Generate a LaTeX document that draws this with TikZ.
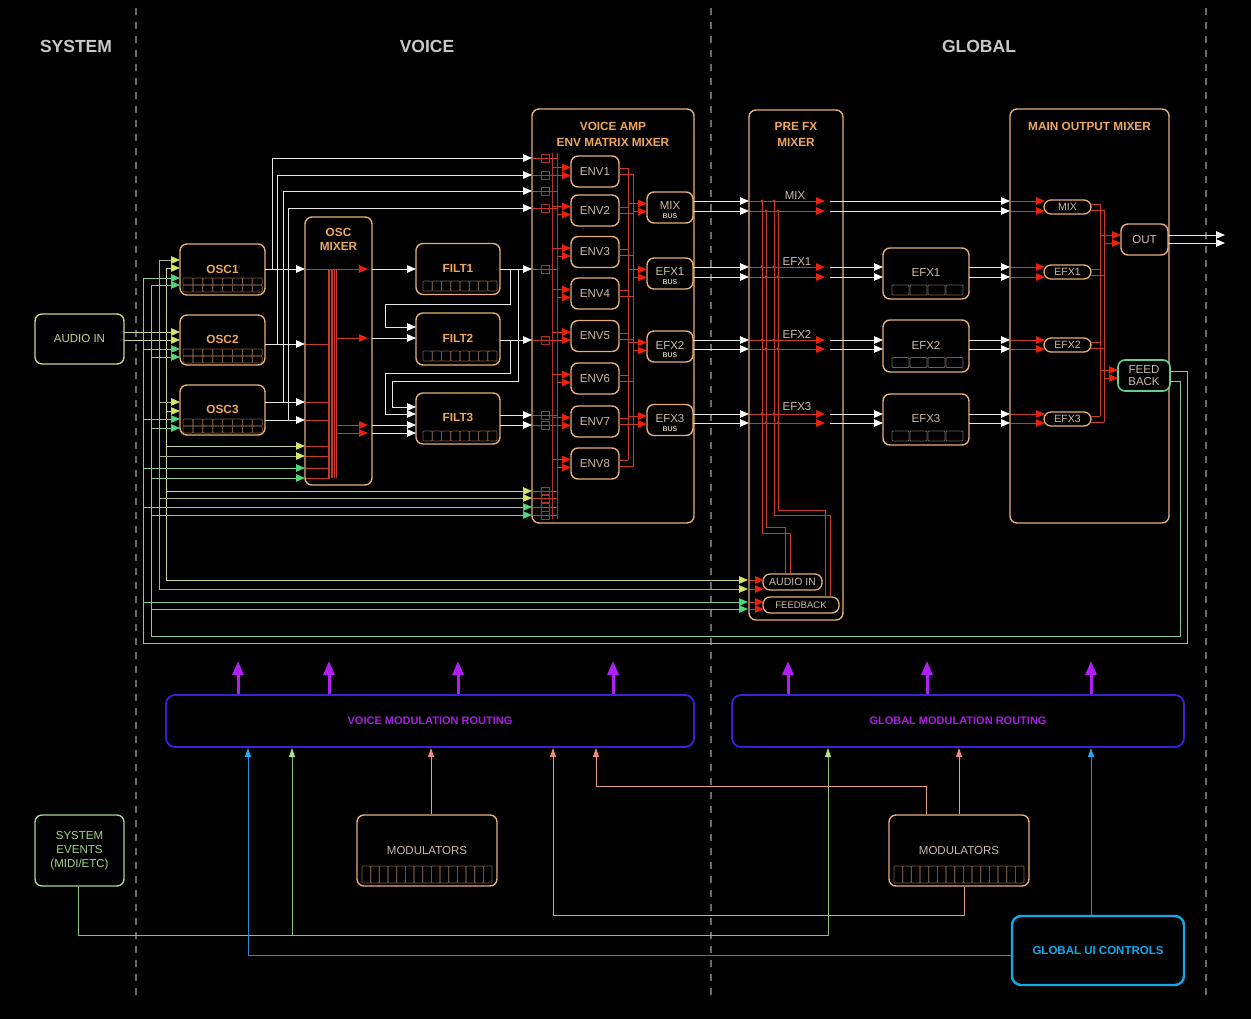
\documentclass[tikz,border=0pt]{standalone}
\usepackage{fontspec}
\setmainfont{Liberation Sans}
\usetikzlibrary{arrows.meta}
\definecolor{boxc}{HTML}{E6AE78}
\definecolor{titc}{HTML}{F0A860}
\definecolor{txtc}{HTML}{CDBCAA}
\definecolor{hdrc}{HTML}{C8C8C8}
\definecolor{sepc}{HTML}{6A6A6A}
\definecolor{wlc}{HTML}{E6E6E6}
\definecolor{redt}{HTML}{E8200C}
\definecolor{redl}{HTML}{C83A2A}
\definecolor{redd}{HTML}{B0302A}
\definecolor{cellc}{HTML}{7A5C44}
\definecolor{audl}{HTML}{C8D49A}
\definecolor{audl2}{HTML}{A8B084}
\definecolor{yelt}{HTML}{D4E464}
\definecolor{grnl}{HTML}{88C89A}
\definecolor{grnt}{HTML}{4CD878}
\definecolor{fbc}{HTML}{6CCC8C}
\definecolor{aibox}{HTML}{C4DA8A}
\definecolor{aitxt}{HTML}{C8D490}
\definecolor{sysc}{HTML}{A6D68E}
\definecolor{modbox}{HTML}{3A22D8}
\definecolor{modtxt}{HTML}{A81EE0}
\definecolor{purp}{HTML}{B020F0}
\definecolor{salm}{HTML}{E0A088}
\definecolor{salt}{HTML}{F08878}
\definecolor{blul}{HTML}{2A88D8}
\definecolor{blut}{HTML}{22A8F0}
\definecolor{uic}{HTML}{12A8EC}
\definecolor{sysl}{HTML}{8CC078}
\definecolor{syst}{HTML}{A8E090}
\definecolor{efxcell}{HTML}{6A6058}
\tikzset{
  box/.style={draw=boxc, line width=1.4pt, rounded corners=7pt, fill=black, inner sep=0pt},
  pill/.style={draw=boxc, line width=1.3pt, rounded corners=7pt, fill=black, inner sep=0pt, text=txtc},
  ttl/.style={text=titc, font=\fontsize{11.8}{13.5}\selectfont\bfseries},
  lbl/.style={text=txtc, font=\fontsize{11.5}{13.5}\selectfont},
  plbl/.style={text=txtc, font=\fontsize{10.5}{12}\selectfont},
  hdr/.style={text=hdrc, font=\fontsize{17.5}{20}\selectfont\bfseries},
  sepline/.style={draw=sepc, line width=2.2pt, dash pattern=on 7pt off 7pt},
  wl/.style={draw=wlc, line width=0.9pt},
  wa/.style={wl, -{Triangle[length=9pt,width=7.5pt,color=white]}},
  rl/.style={draw=redl, line width=0.8pt},
  rd/.style={draw=redd, line width=0.8pt},
  ra/.style={rl, -{Triangle[length=9pt,width=7.5pt,color=redt]}},
  yl/.style={draw=audl, line width=0.9pt},
  ya/.style={yl, -{Triangle[length=9pt,width=7.5pt,color=yelt]}},
  kl/.style={draw=audl2, line width=0.9pt},
  ka/.style={kl, -{Triangle[length=9pt,width=7.5pt,color=yelt]}},
  gl/.style={draw=grnl, line width=0.9pt},
  ga/.style={gl, -{Triangle[length=9pt,width=7.5pt,color=grnt]}},
  cell/.style={draw=cellc, line width=0.7pt, rounded corners=1pt},
  ecell/.style={draw=efxcell, line width=0.8pt, rounded corners=1pt},
  pa/.style={draw=purp, line width=3pt, -{Triangle[length=14pt,width=11pt]}},
  sl/.style={draw=salm, line width=0.9pt},
  sa/.style={sl, -{Triangle[length=9pt,width=6pt,color=salt]}},
  bl/.style={draw=blul, line width=0.9pt},
  ba/.style={bl, -{Triangle[length=9pt,width=6pt,color=blut]}},
  ql/.style={draw=sysl, line width=0.9pt},
  qa/.style={ql, -{Triangle[length=9pt,width=6pt,color=syst]}},
  modr/.style={draw=modbox, line width=1.8pt, rounded corners=9pt, fill=black, inner sep=0pt, text=modtxt, font=\fontsize{11}{13}\selectfont\bfseries},
}
\begin{document}
\begin{tikzpicture}[x=1pt,y=-1pt]
\useasboundingbox (0,0) rectangle (1251,1019);
\fill[black] (0,0) rectangle (1251,1019);

% separators
\draw[sepline] (136,8)--(136,995);
\draw[sepline] (711,8)--(711,995);
\draw[sepline] (1206,8)--(1206,995);

% headers
\node[hdr] (hsys) at (76,46) {SYSTEM};
\node[hdr] (hvoice) at (427,46) {VOICE};
\node[hdr] (hglobal) at (979,46) {GLOBAL};

% big containers
\node[box, minimum width=67pt, minimum height=268pt] (oscmix) at (338.5,351) {};
\node[ttl, align=center] (oscmixt) at (338.5,239.5) {OSC\\MIXER};
\node[box, minimum width=162pt, minimum height=414pt] (voiceamp) at (613,316) {};
\node[ttl] (vat1) at (613,126) {VOICE AMP};
\node[ttl] (vat2) at (613,142) {ENV MATRIX MIXER};
\node[box, minimum width=94pt, minimum height=510pt] (prefx) at (796,365) {};
\node[ttl] (pft1) at (796,126) {PRE FX};
\node[ttl] (pft2) at (796,142) {MIXER};
\node[box, minimum width=159pt, minimum height=414pt] (mainmix) at (1089.5,316) {};
\node[ttl] (mmt) at (1089.5,126) {MAIN OUTPUT MIXER};

% audio in
\node[draw=aibox, line width=1.4pt, rounded corners=7pt, fill=black, minimum width=89pt, minimum height=50pt, text=aitxt, font=\fontsize{11.5}{13.5}\selectfont] (audioin) at (79.5,339) {AUDIO IN};

% oscillators
\node[box, ttl, minimum width=85pt, minimum height=51pt] (osc1) at (222.5,269.5) {\raisebox{1pt}{OSC1}};
\node[box, ttl, minimum width=85pt, minimum height=50pt] (osc2) at (222.5,340) {\raisebox{1pt}{OSC2}};
\node[box, ttl, minimum width=85pt, minimum height=50pt] (osc3) at (222.5,410) {\raisebox{1pt}{OSC3}};
\foreach \oy in {278,349,419}{
  \foreach \i in {0,...,7}{
    \draw[cell] ({183+\i*9.9},\oy) rectangle +(9.9,7);
    \draw[cell] ({183+\i*9.9},\oy+7) rectangle +(9.9,7);
  }
}

% filters
\node[box, ttl, minimum width=84pt, minimum height=51pt] (filt1) at (458,269) {\raisebox{2pt}{FILT1}};
\node[box, ttl, minimum width=84pt, minimum height=52pt] (filt2) at (458,339) {\raisebox{2pt}{FILT2}};
\node[box, ttl, minimum width=84pt, minimum height=51pt] (filt3) at (458,418.5) {\raisebox{2pt}{FILT3}};
\foreach \fy in {281,351,431}{
  \foreach \i in {0,...,7}{
    \draw[cell] ({423+\i*9.25},\fy) rectangle +(9.25,10);
  }
}

% ENV boxes
\foreach \n/\c in {1/171.5,2/210.5,3/252,4/293.5,5/336,6/378.5,7/421.5,8/463.5}{
  \node[box, lbl, minimum width=48pt, minimum height=31pt] (env\n) at (595,\c) {ENV\n};
}
% buses
\node[box, minimum width=46pt, minimum height=31pt] (busmix) at (670,207.5) {};
\node[box, minimum width=46pt, minimum height=31pt] (busefx1) at (670,273.5) {};
\node[box, minimum width=46pt, minimum height=31pt] (busefx2) at (670,346.5) {};
\node[box, minimum width=46pt, minimum height=31pt] (busefx3) at (670,420) {};
\foreach \nm/\t/\c in {bm/MIX/207.5,b1/EFX1/273.5,b2/EFX2/346.5,b3/EFX3/420}{
  \node[lbl] (\nm t) at (670,\c-1.5) {\t};
  \node[text=txtc, font=\fontsize{7}{8}\selectfont\bfseries] (\nm s) at (670,\c+9) {BUS};
}

% pre fx pills
\node[pill, minimum width=59pt, minimum height=16pt, font=\fontsize{10.5}{12}\selectfont] (pain) at (792.5,582) {AUDIO IN};
\node[pill, minimum width=76pt, minimum height=16pt, font=\fontsize{9.5}{11}\selectfont] (pfb) at (801,605) {FEEDBACK};
\node[lbl] (pfl0) at (795,196) {MIX};
\node[lbl] (pfl1) at (797,262) {EFX1};
\node[lbl] (pfl2) at (797,334) {EFX2};
\node[lbl] (pfl3) at (797,407) {EFX3};

% EFX units
\node[box, lbl, minimum width=86pt, minimum height=51pt] (efx1) at (926,273.5) {\raisebox{2pt}{EFX1}};
\node[box, lbl, minimum width=86pt, minimum height=52pt] (efx2) at (926,346) {\raisebox{2pt}{EFX2}};
\node[box, lbl, minimum width=86pt, minimum height=51pt] (efx3) at (926,419.5) {\raisebox{2pt}{EFX3}};
\foreach \ey in {285,357.5,431}{
  \foreach \i in {0,...,3}{
    \draw[ecell] ({892+\i*18},\ey) rectangle +(17,10);
  }
}

% main mixer pills
\node[pill, plbl, minimum width=47pt, minimum height=14pt] (pmix) at (1067.5,207) {MIX};
\node[pill, plbl, minimum width=47pt, minimum height=14pt] (pefx1) at (1067.5,272) {EFX1};
\node[pill, plbl, minimum width=47pt, minimum height=14pt] (pefx2) at (1067.5,345) {EFX2};
\node[pill, plbl, minimum width=47pt, minimum height=14pt] (pefx3) at (1067.5,419) {EFX3};
\node[box, lbl, minimum width=47pt, minimum height=31pt] (out) at (1144.5,239.5) {OUT};
\node[draw=fbc, line width=1.6pt, rounded corners=7pt, fill=black, inner sep=0pt, minimum width=52pt, minimum height=31pt, text=txtc, align=center, font=\fontsize{11.5}{12.5}\selectfont] (fb) at (1144,375.5) {FEED\\BACK};

% bottom boxes
\node[modr, minimum width=528pt, minimum height=52pt] (voicemod) at (430,721) {VOICE MODULATION ROUTING};
\node[modr, minimum width=452pt, minimum height=52pt] (globalmod) at (958,721) {GLOBAL MODULATION ROUTING};
\node[draw=sysc, line width=1.4pt, rounded corners=7pt, fill=black, minimum width=89pt, minimum height=71pt, text=sysc, align=center, font=\fontsize{11.5}{14}\selectfont] (sysev) at (79.5,850.5) {SYSTEM\\EVENTS\\(MIDI/ETC)};
\node[box, lbl, minimum width=140pt, minimum height=71pt] (mod1) at (427,850.5) {MODULATORS};
\node[box, lbl, minimum width=140pt, minimum height=71pt] (mod2) at (959,850.5) {MODULATORS};
\foreach \mx in {362,894}{
  \foreach \i in {0,...,14}{
    \draw[cell] ({\mx+\i*8.67},866) rectangle +(8.67,17);
  }
}
\node[draw=uic, line width=2.4pt, rounded corners=9pt, fill=black, minimum width=172pt, minimum height=69pt, text=uic, font=\fontsize{11.5}{13.5}\selectfont\bfseries] (globalui) at (1098,950.5) {GLOBAL UI CONTROLS};

% ===== left buses =====
\draw[ya] (124,332) -- (180,332);
\draw[ya] (124,340) -- (180,340);
\draw[yl] (166,268) -- (166,580);
\draw[ya] (166,268) -- (180,268);
\draw[ya] (166,411) -- (180,411);
\draw[ya] (166,446) -- (305,446);
\draw[ya] (166,491) -- (532,491);
\draw[ya] (166,580) -- (748,580);
\draw[kl] (159,260) -- (159,589);
\draw[ka] (159,260) -- (180,260);
\draw[ka] (159,402) -- (180,402);
\draw[ka] (159,456) -- (305,456);
\draw[ka] (159,498) -- (532,498);
\draw[ka] (159,589) -- (748,589);
% feedback return
\draw[gl] (fb.east |- 0,371) -- (1187,371) -- (1187,643) -- (143,643) -- (143,278);
\draw[gl] (fb.east |- 0,381) -- (1180,381) -- (1180,636) -- (151,636) -- (151,285);
\foreach \a/\b in {278/180,349/180,419/180,468/305,507/532,602/748}{\draw[ga] (143,\a) -- (\b,\a);}
\foreach \a/\b in {285/180,357/180,428/180,478/305,515/532,609/748}{\draw[ga] (151,\a) -- (\b,\a);}

% ===== osc outputs =====
\draw[wa] (265,269) -- (305,269);
\draw[wa] (272,269) -- (272,158) -- (532,158);
\draw[wa] (265,344) -- (305,344);
\draw[wa] (277,344) -- (277,175) -- (532,175);
\draw[wa] (265,402) -- (305,402);
\draw[wa] (283,402) -- (283,191) -- (532,191);
\draw[wa] (265,420) -- (305,420);
\draw[wa] (288,420) -- (288,208) -- (532,208);

% osc mixer internals
\foreach \k in {0,...,5}{\draw[rl] ({328+\k*1.6},269) -- ({328+\k*1.6},478);}
\draw[ra] (306,269) -- (368,269);
\foreach \y in {344,402,420,446,456,468,478}{\draw[rl] (306,\y) -- (330,\y);}
\draw[ra] (336,338) -- (368,338);
\draw[ra] (336,425) -- (368,425);
\draw[ra] (336,433) -- (368,433);
\draw[wa] (372,269) -- (416,269);
\draw[wa] (372,338) -- (416,338);
\draw[wa] (372,425) -- (416,425);
\draw[wa] (372,433) -- (416,433);

% filter routing
\draw[wa] (500,269) -- (532,269);
\draw[wa] (510,269) -- (510,304) -- (385,304) -- (385,327) -- (416,327);
\draw[wa] (518,269) -- (518,381) -- (392,381) -- (392,407) -- (416,407);
\draw[wa] (500,340) -- (532,340);
\draw[wa] (510,340) -- (510,373) -- (385,373) -- (385,414) -- (416,414);
\draw[wa] (500,415) -- (532,415);
\draw[wa] (500,425) -- (532,425);

% voice amp internals
\draw[rd] (552,153) -- (552,519);
\draw[rd] (557,153) -- (557,519);
\foreach \y in {158,175,191,208,269,340,415,425,491,498,507,515}{
  \draw[rl] (533,\y) -- (557,\y);
  \draw[rd] (541,\y-4) rectangle (549,\y+4);
}
\foreach \c in {171.5,210.5,252,293.5,336,378.5,421.5,463.5}{
  \draw[ra] (552,\c-4) -- (571,\c-4);
  \draw[ra] (557,\c+4) -- (571,\c+4);
  \draw[rl] (619,\c-3) -- (628,\c-3);
  \draw[rl] (619,\c+3) -- (633,\c+3);
}
\draw[rl] (628,168) -- (628,460);
\draw[rl] (633,174) -- (633,467);
\foreach \b in {207.5,273.5,346.5,420}{
  \draw[ra] (628,\b-4) -- (647,\b-4);
  \draw[ra] (633,\b+4) -- (647,\b+4);
}

% bus -> pre fx
\foreach \y in {201,211,267,277,340,349,414,423}{\draw[wa] (693,\y) -- (749,\y);}
% pre fx internals
\foreach \y in {201,211,267,277,340,349,414,423}{\draw[ra] (750,\y) -- (825,\y);}
\draw[rl] (762,201) -- (762,533) -- (790,533) -- (pain.north -| 790,0);
\draw[rl] (766,211) -- (766,527) -- (785,527) -- (pain.north -| 785,0);
\draw[rl] (774,201) -- (774,515) -- (830,515) -- (pfb.north -| 830,0);
\draw[rl] (778,211) -- (778,510) -- (825,510) -- (pfb.north -| 825,0);
\foreach \y in {201,267,340,414}{\fill[redl] (762,\y) circle (1.7); \fill[redl] (774,\y) circle (1.7);}
\foreach \y in {211,277,349,423}{\fill[redl] (766,\y) circle (1.7); \fill[redl] (778,\y) circle (1.7);}
\draw[ra] (750,580) -- (764,580);
\draw[ra] (750,589) -- (764,589);
\draw[ra] (750,602) -- (764,602);
\draw[ra] (750,609) -- (764,609);

% pre fx -> efx / main mixer
\draw[wa] (830,201) -- (1010,201);
\draw[wa] (830,211) -- (1010,211);
\foreach \y in {267,277,340,349,414,423}{
  \draw[wa] (830,\y) -- (883,\y);
  \draw[wa] (969,\y) -- (1010,\y);
}
% main mixer internals
\foreach \y in {201,211,267,277,340,349,414,423}{\draw[ra] (1011,\y) -- (1045,\y);}
\foreach \p in {207,272,345,419}{
  \draw[rl] (1091,\p-3) -- (1100,\p-3);
  \draw[rl] (1091,\p+3) -- (1104,\p+3);
}
\draw[rl] (1100,204) -- (1100,416);
\draw[rl] (1104,210) -- (1104,422);
\draw[ra] (1100,235) -- (1121,235);
\draw[ra] (1104,243) -- (1121,243);
\draw[ra] (1100,370) -- (1118,370);
\draw[ra] (1104,378) -- (1118,378);
\draw[wa] (1168,235) -- (1225,235);
\draw[wa] (1168,243) -- (1225,243);

% ===== modulation =====
\foreach \x in {238,329,458,613}{\draw[pa] (\x,694) -- (\x,661);}
\foreach \x in {788,927,1091}{\draw[pa] (\x,694) -- (\x,661);}
\draw[qa] (sysev.south -| 78,0) -- (78,935) -- (828,935) -- (828,748);
\draw[qa] (292,935) -- (292,748);
\draw[ba] (globalui.west |- 0,955) -- (248,955) -- (248,748);
\draw[ba] (globalui.north -| 1091,0) -- (1091,748);
\draw[sa] (mod1.north -| 431,0) -- (431,748);
\draw[sa] (mod2.north) -- (959,748);
\draw[sa] (mod2.north -| 926,0) -- (926,786) -- (596,786) -- (596,748);
\draw[sa] (mod2.south -| 964,0) -- (964,915) -- (553,915) -- (553,748);
\end{tikzpicture}
\end{document}
